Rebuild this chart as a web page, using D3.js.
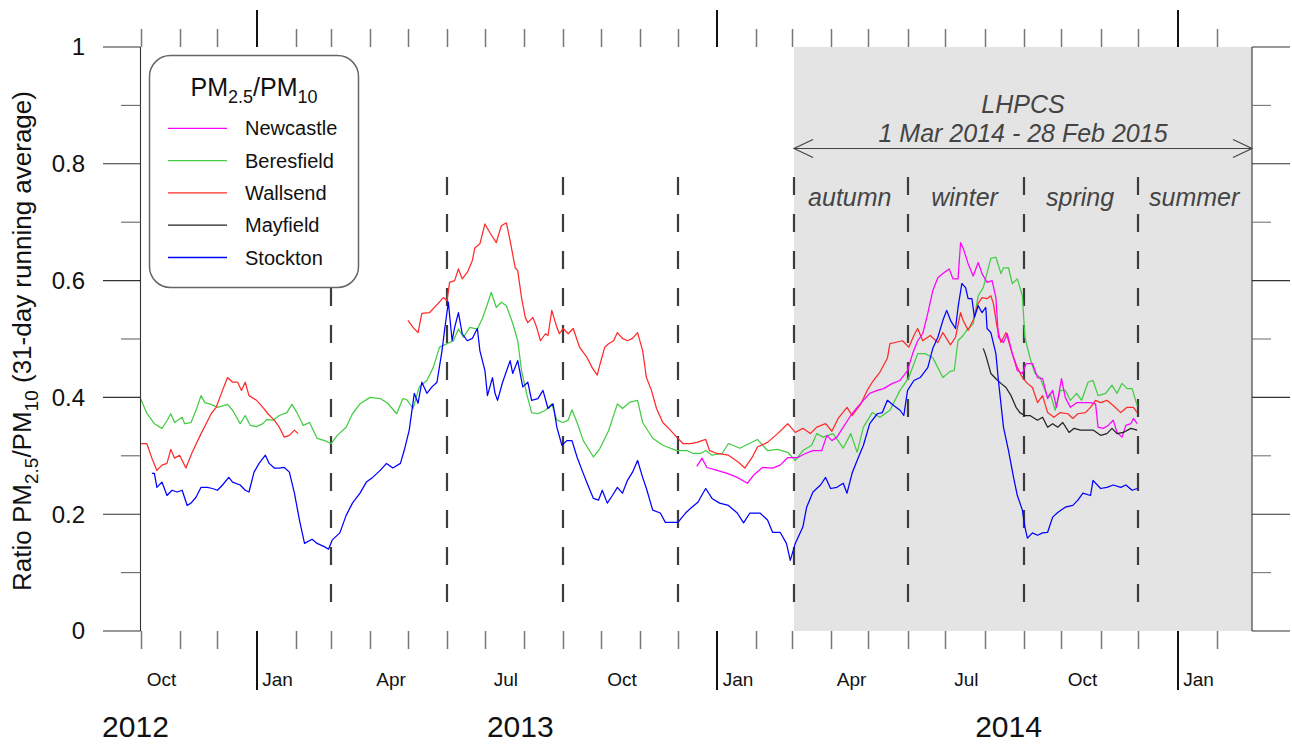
<!DOCTYPE html>
<html><head><meta charset="utf-8">
<script src="https://cdn.jsdelivr.net/npm/d3@7"></script>
<style>
body{margin:0;background:#fff}
svg{display:block;font-family:"Liberation Sans",Arial,Helvetica,sans-serif}
</style>
</head><body>
<svg id="chart" width="1292" height="744"></svg>
<script>
// ---------------- data ----------------
// each series: [day of record (0 = 1 Oct 2012), PM2.5/PM10 ratio, 31-day running average]
const recordStart = "2012-10-01";
const axisDomain = ["2012-10-01", "2015-03-01"];

const beresfield = [[0,.398],[5,.373],[11,.355],[17,.347],[21,.360],[24,.372],[27,.357],[33,.366],[35,.355],[40,.357],[44,.378],[48,.403],[51,.391],[56,.388],[61,.383],[69,.388],[73,.378],[79,.355],[83,.369],[87,.352],[92,.350],[97,.355],[100,.362],[105,.361],[110,.369],[116,.374],[120,.388],[124,.374],[129,.352],[134,.357],[140,.330],[146,.326],[151,.321],[156,.335],[163,.349],[168,.372],[174,.389],[182,.400],[190,.398],[196,.390],[203,.372],[208,.398],[211,.396],[216,.381],[221,.418],[227,.429],[232,.451],[237,.486],[243,.492],[248,.497],[252,.517],[256,.503],[261,.520],[267,.517],[271,.535],[275,.560],[278,.580],[282,.554],[286,.563],[290,.557],[295,.527],[299,.497],[302,.446],[306,.407],[310,.374],[315,.372],[321,.378],[326,.389],[330,.361],[335,.357],[339,.361],[342,.379],[346,.357],[351,.326],[359,.298],[364,.312],[371,.343],[378,.389],[382,.381],[388,.392],[394,.395],[398,.357],[406,.330],[414,.318],[425,.309],[433,.309],[438,.304],[444,.304],[448,.309],[453,.301],[461,.304],[466,.321],[475,.313],[489,.328],[497,.309],[505,.311],[513,.306],[519,.292],[525,.309],[532,.318],[536,.338],[541,.332],[549,.338],[557,.313],[563,.338],[568,.306],[573,.349],[580,.374],[586,.366],[594,.378],[602,.412],[609,.434],[616,.475],[622,.475],[628,.468],[632,.451],[636,.434],[642,.445],[645,.446],[648,.497],[652,.506],[655,.515],[660,.526],[664,.574],[668,.588],[674,.638],[678,.640],[682,.612],[684,.622],[688,.622],[691,.595],[695,.603],[699,.574],[701,.503],[705,.468],[709,.441],[713,.434],[719,.400],[721,.407],[725,.378],[729,.412],[733,.412],[737,.395],[742,.407],[746,.395],[751,.426],[755,.429],[759,.403],[765,.407],[770,.421],[774,.407],[778,.424],[782,.415],[786,.415],[790,.386]];

const wallsend = [[0,.321],[5,.321],[9,.296],[13,.275],[17,.284],[21,.287],[24,.311],[27,.296],[31,.301],[36,.279],[41,.306],[48,.338],[52,.355],[56,.372],[60,.383],[65,.412],[69,.434],[73,.426],[77,.426],[80,.412],[83,.426],[86,.403],[92,.395],[97,.383],[101,.372],[106,.361],[110,.349],[114,.332],[118,.335],[122,.344],[125,.338],[170,null],[212,.532],[216,.520],[220,.511],[223,.544],[229,.545],[236,.561],[240,.571],[243,.566],[245,.597],[249,.600],[252,.620],[255,.603],[259,.614],[263,.634],[265,.656],[269,.663],[273,.697],[277,.682],[282,.665],[286,.694],[290,.699],[293,.668],[297,.622],[299,.617],[302,.571],[305,.537],[307,.528],[311,.537],[314,.520],[317,.497],[321,.509],[323,.506],[326,.549],[330,.520],[332,.509],[335,.518],[339,.509],[343,.518],[348,.486],[354,.468],[358,.451],[362,.438],[364,.455],[368,.486],[371,.492],[375,.497],[378,.511],[382,.501],[386,.497],[390,.501],[394,.511],[398,.480],[401,.434],[405,.412],[409,.381],[414,.357],[420,.344],[425,.332],[430,.321],[436,.321],[441,.323],[448,.328],[451,.309],[457,.304],[466,.301],[474,.289],[479,.279],[485,.298],[489,.315],[497,.323],[505,.338],[513,.355],[519,.340],[525,.347],[531,.338],[536,.349],[543,.355],[548,.342],[553,.364],[560,.383],[564,.369],[571,.389],[576,.412],[580,.426],[586,.443],[592,.467],[594,.492],[598,.494],[604,.497],[609,.486],[613,.506],[616,.518],[620,.497],[626,.506],[632,.494],[636,.511],[642,.490],[646,.503],[650,.545],[652,.532],[656,.515],[660,.532],[664,.561],[667,.571],[671,.569],[674,.574],[676,.561],[679,.520],[682,.494],[686,.511],[688,.497],[691,.475],[695,.451],[699,.434],[703,.424],[707,.417],[711,.391],[715,.403],[719,.374],[724,.366],[729,.374],[735,.372],[739,.364],[743,.372],[749,.374],[753,.383],[757,.395],[761,.391],[766,.395],[771,.386],[777,.374],[782,.383],[787,.383],[790,.374]];

const stockton = [[9,.270],[11,.270],[13,.246],[17,.255],[21,.232],[25,.241],[29,.238],[33,.241],[37,.215],[40,.219],[44,.229],[48,.246],[53,.246],[57,.244],[61,.241],[65,.250],[70,.263],[73,.255],[79,.250],[83,.241],[86,.238],[90,.272],[94,.287],[99,.301],[102,.287],[106,.279],[110,.279],[114,.280],[118,.272],[122,.236],[126,.190],[130,.150],[136,.157],[140,.150],[146,.144],[149,.140],[152,.156],[158,.168],[163,.198],[168,.219],[174,.236],[179,.255],[184,.263],[190,.275],[195,.287],[200,.279],[206,.287],[209,.309],[213,.344],[217,.407],[220,.390],[223,.426],[227,.407],[231,.418],[235,.426],[239,.480],[241,.515],[244,.563],[247,.497],[249,.520],[252,.545],[255,.509],[259,.497],[263,.501],[267,.518],[269,.480],[273,.446],[275,.403],[279,.434],[281,.407],[283,.395],[287,.426],[293,.463],[295,.441],[299,.463],[303,.418],[307,.426],[310,.395],[315,.398],[319,.412],[323,.381],[327,.389],[330,.349],[334,.318],[338,.326],[342,.326],[346,.298],[350,.275],[354,.253],[359,.227],[363,.224],[366,.241],[370,.219],[374,.232],[378,.246],[382,.236],[386,.258],[390,.272],[394,.292],[398,.263],[401,.244],[406,.207],[412,.202],[416,.186],[421,.186],[426,.186],[432,.202],[437,.212],[442,.221],[444,.229],[448,.244],[453,.227],[459,.219],[466,.215],[473,.202],[478,.185],[483,.202],[491,.202],[497,.190],[501,.169],[507,.169],[512,.150],[515,.121],[519,.150],[525,.178],[528,.212],[533,.238],[539,.250],[543,.263],[547,.244],[552,.246],[557,.253],[560,.236],[564,.270],[568,.292],[573,.318],[578,.355],[584,.372],[588,.374],[592,.395],[597,.386],[602,.378],[605,.369],[608,.412],[613,.429],[618,.434],[624,.451],[628,.484],[632,.503],[636,.532],[639,.549],[642,.532],[646,.518],[648,.554],[651,.595],[654,.588],[656,.569],[659,.569],[661,.537],[664,.557],[667,.545],[670,.554],[671,.518],[674,.511],[678,.475],[680,.429],[684,.349],[688,.309],[692,.263],[695,.232],[699,.207],[701,.178],[703,.159],[707,.168],[711,.164],[715,.168],[719,.169],[723,.195],[727,.203],[733,.212],[739,.215],[743,.224],[747,.236],[753,.232],[755,.258],[761,.244],[766,.246],[771,.250],[777,.246],[781,.250],[786,.241],[790,.244]];

const newcastle = [[441,.282],[445,.296],[449,.280],[457,.275],[465,.270],[473,.263],[481,.253],[486,.267],[493,.280],[501,.279],[507,.284],[513,.297],[521,.297],[527,.304],[533,.309],[540,.309],[544,.335],[548,.326],[552,.332],[557,.349],[563,.369],[568,.383],[573,.395],[578,.407],[584,.412],[589,.415],[596,.424],[602,.429],[608,.446],[612,.475],[616,.497],[620,.509],[624,.544],[628,.583],[632,.605],[636,.612],[639,.617],[641,.620],[644,.603],[648,.603],[650,.665],[652,.656],[656,.629],[660,.608],[664,.631],[667,.612],[671,.597],[675,.600],[678,.571],[680,.503],[684,.494],[687,.509],[691,.475],[695,.446],[699,.441],[702,.458],[707,.458],[711,.434],[715,.432],[719,.398],[723,.412],[726,.383],[730,.432],[733,.400],[737,.383],[742,.391],[747,.391],[753,.391],[757,.389],[759,.349],[763,.347],[767,.352],[771,.361],[774,.340],[778,.332],[781,.352],[785,.355],[787,.364],[790,.355]];

const mayfield = [[668,.484],[670,.472],[674,.441],[678,.432],[682,.424],[686,.417],[690,.403],[694,.383],[697,.374],[701,.369],[705,.369],[711,.361],[715,.366],[719,.349],[723,.355],[727,.349],[731,.357],[736,.340],[740,.347],[745,.344],[751,.344],[755,.344],[761,.335],[766,.338],[770,.347],[774,.338],[779,.340],[785,.347],[790,.344]];

const seriesNames  = ["Newcastle", "Beresfield", "Wallsend", "Mayfield", "Stockton"];
const seriesColors = ["#ff00ff", "#44cc44", "#ff2a2a", "#222222", "#0000ff"];
const seriesData   = [newcastle, beresfield, wallsend, mayfield, stockton];
const drawOrder    = ["Beresfield", "Wallsend", "Newcastle", "Mayfield", "Stockton"];

const yTicks      = [0, 0.2, 0.4, 0.6, 0.8, 1];
const yTickLabels = ["0", "0.2", "0.4", "0.6", "0.8", "1"];
const yMinorTicks = [0.1, 0.3, 0.5, 0.7, 0.9];

const monthLabelDates = ["2012-10-16","2013-01-16","2013-04-16","2013-07-16","2013-10-16","2014-01-16","2014-04-16","2014-07-16","2014-10-16","2015-01-16"];
const monthLabelText  = ["Oct","Jan","Apr","Jul","Oct","Jan","Apr","Jul","Oct","Jan"];
const yearLabelText   = ["2012","2013","2014"];
const yearLabelDates  = ["2012-09-27","2013-07-29","2014-08-20"];

const seasonBoundaries = ["2013-03-01","2013-06-01","2013-09-01","2013-12-01","2014-03-03","2014-06-01","2014-09-01","2014-12-01"];
const studyPeriod  = ["2014-03-03", "2015-03-01"];
const studyEdges   = ["2014-03-03","2014-06-01","2014-09-01","2014-12-01","2015-03-01"];
const seasonNames  = ["autumn","winter","spring","summer"];
const studyTitle   = ["LHPCS", "1 Mar 2014 - 28 Feb 2015"];

// ---------------- layout ----------------
const svg = d3.select("#chart");
const parse = d3.utcParse("%Y-%m-%d");
const t0 = parse(recordStart);
const dayDate = d => d3.utcDay.offset(t0, d);

const L = 140.5, R = 1252, T = 47, B = 631;
const x = d3.scaleUtc().domain(axisDomain.map(parse)).range([L, R]);
const y = d3.scaleLinear().domain([0, 1]).range([B, T]);

// shading
svg.append("rect")
  .attr("x", x(parse(studyPeriod[0]))).attr("y", T)
  .attr("width", x(parse(studyPeriod[1])) - x(parse(studyPeriod[0])))
  .attr("height", B - T).attr("fill", "#e4e4e4");

// dashed season lines
svg.append("g").selectAll("line").data(seasonBoundaries).join("line")
  .attr("x1", d => Math.round(x(parse(d)))).attr("x2", d => Math.round(x(parse(d))))
  .attr("y1", 177).attr("y2", 603)
  .attr("stroke", "#3c3c3c").attr("stroke-width", 2.2).attr("stroke-dasharray", "18,19");

// series lines
const line = d3.line()
  .defined(d => d[1] != null)
  .x(d => x(dayDate(d[0])))
  .y(d => y(d[1]));
const lg = svg.append("g");
drawOrder.forEach(name => {
  const i = seriesNames.indexOf(name);
  lg.append("path").datum(seriesData[i])
    .attr("d", line).attr("fill", "none")
    .attr("stroke", seriesColors[i]).attr("stroke-width", 1.25)
    .attr("stroke-linejoin", "round");
});

// frame
const frame = svg.append("g").attr("stroke", "#333").attr("stroke-width", 1.1);
frame.append("line").attr("x1", L).attr("x2", L).attr("y1", T).attr("y2", B);
frame.append("line").attr("x1", R).attr("x2", R).attr("y1", T).attr("y2", B);

// y ticks (both sides)
const yg = svg.append("g");
yTicks.forEach(v => {
  yg.append("line").attr("x1", 103).attr("x2", 1290).attr("y1", y(v)).attr("y2", y(v))
    .attr("stroke", "#333").attr("stroke-width", 1.1)
    .attr("stroke-dasharray", `${L - 103},${R - L},${1290 - R}`);
});
yMinorTicks.forEach(v => {
  yg.append("line").attr("x1", 121).attr("x2", L).attr("y1", y(v)).attr("y2", y(v)).attr("stroke", "#666").attr("stroke-width", 1.1);
  yg.append("line").attr("x1", R).attr("x2", 1271).attr("y1", y(v)).attr("y2", y(v)).attr("stroke", "#777").attr("stroke-width", 1.1);
});
yg.selectAll("text").data(yTicks).join("text")
  .attr("x", 85).attr("y", d => y(d)).attr("dy", "0.35em")
  .attr("text-anchor", "end").attr("font-size", 24).attr("fill", "#111")
  .text((d, i) => yTickLabels[i]);

// x ticks (months, years) top and bottom
const months = d3.utcMonth.range(parse(axisDomain[0]), parse(axisDomain[1]));
const xg = svg.append("g");
months.forEach(m => {
  const isYear = m.getUTCMonth() === 0;
  const xx = Math.round(x(m)) + (isYear ? 0 : 0.5);
  xg.append("line").attr("x1", xx).attr("x2", xx)
    .attr("y1", isYear ? 10 : 29).attr("y2", T)
    .attr("stroke", isYear ? "#111" : "#777").attr("stroke-width", isYear ? 2 : 1.5);
  xg.append("line").attr("x1", xx).attr("x2", xx)
    .attr("y1", B).attr("y2", isYear ? 690 : 649)
    .attr("stroke", isYear ? "#111" : "#777").attr("stroke-width", isYear ? 2 : 1.5);
});
xg.selectAll("text.m").data(monthLabelDates).join("text").attr("class", "m")
  .attr("x", d => x(parse(d)) + 2).attr("y", 686)
  .attr("text-anchor", "middle").attr("font-size", 19).attr("fill", "#111")
  .text((d, i) => monthLabelText[i]);
xg.selectAll("text.y").data(yearLabelDates).join("text").attr("class", "y")
  .attr("x", d => x(parse(d))).attr("y", 737)
  .attr("text-anchor", "middle").attr("font-size", 30).attr("fill", "#111")
  .text((d, i) => yearLabelText[i]);

// rich text helper (subscripts)
function rich(textSel, parts, size) {
  const sub = Math.round(size * 0.72), shift = Math.round(size * 0.28);
  let down = false;
  parts.forEach(([s, isSub]) => {
    const ts = textSel.append("tspan").text(s);
    if (isSub) { ts.attr("font-size", sub); if (!down) { ts.attr("dy", shift); down = true; } }
    else if (down) { ts.attr("dy", -shift); down = false; }
  });
}

// y axis title
const yt = svg.append("text").attr("transform", "translate(31,341) rotate(-90)")
  .attr("text-anchor", "middle").attr("font-size", 26).attr("fill", "#111");
rich(yt, [["Ratio PM", false], ["2.5", true], ["/PM", false], ["10", true], [" (31-day running average)", false]], 26);

// legend
const leg = svg.append("g");
leg.append("rect").attr("x", 149.5).attr("y", 55.5).attr("width", 209).attr("height", 232)
  .attr("rx", 21).attr("fill", "#fff").attr("stroke", "#666").attr("stroke-width", 1.5);
const lt = leg.append("text").attr("x", 254).attr("y", 96).attr("text-anchor", "middle")
  .attr("font-size", 25).attr("fill", "#111");
rich(lt, [["PM", false], ["2.5", true], ["/PM", false], ["10", true]], 25);
seriesNames.forEach((n, i) => {
  const yy = 128.3 + i * 32.3;
  leg.append("line").attr("x1", 168).attr("x2", 227).attr("y1", yy).attr("y2", yy)
    .attr("stroke", seriesColors[i]).attr("stroke-width", 1.3);
  leg.append("text").attr("x", 245).attr("y", yy + 7).attr("font-size", 20).attr("fill", "#111").text(n);
});

// LHPCS annotation
const ann = svg.append("g").attr("fill", "#444").attr("font-style", "italic").attr("font-size", 25);
const xs = x(parse(studyPeriod[0])), xe = x(parse(studyPeriod[1]));
ann.append("text").attr("x", (xs + xe) / 2).attr("y", 113).attr("text-anchor", "middle").text(studyTitle[0]);
ann.append("text").attr("x", (xs + xe) / 2).attr("y", 142).attr("text-anchor", "middle").text(studyTitle[1]);
const ay = 148.5;
ann.append("path")
  .attr("d", `M${xs},${ay}H${xe}M${xs + 19},${ay - 9}L${xs},${ay}L${xs + 19},${ay + 9}M${xe - 19},${ay - 9}L${xe},${ay}L${xe - 19},${ay + 9}`)
  .attr("fill", "none").attr("stroke", "#444").attr("stroke-width", 1.2);
seasonNames.forEach((s, i) => {
  const a = x(parse(studyEdges[i])), b = x(parse(studyEdges[i + 1]));
  ann.append("text").attr("x", (a + b) / 2 - 1).attr("y", 206).attr("text-anchor", "middle").text(s);
});
</script>
</body></html>
